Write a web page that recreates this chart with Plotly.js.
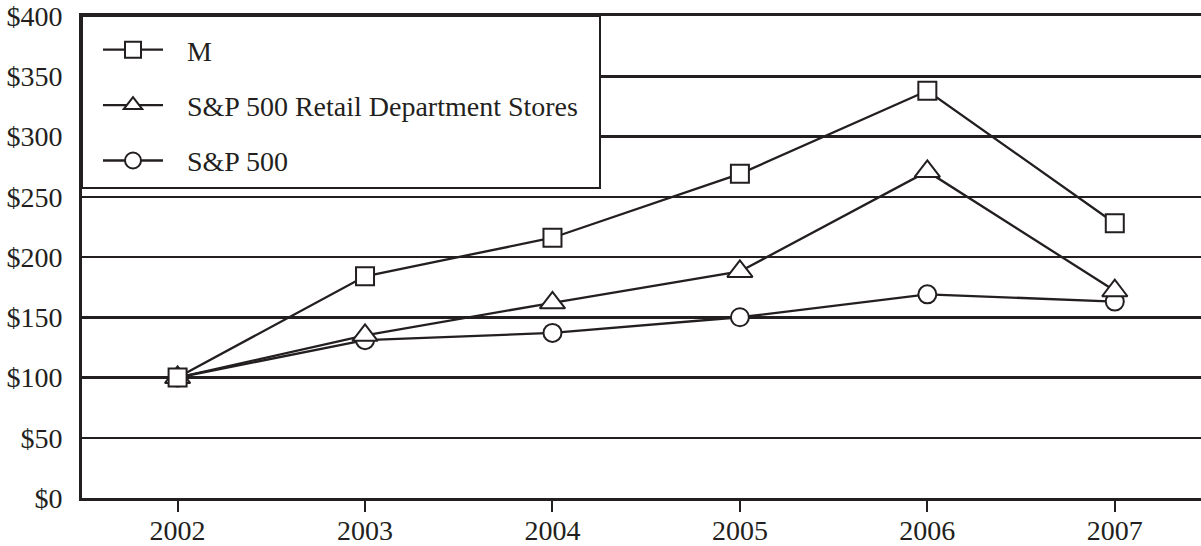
<!DOCTYPE html>
<html>
<head>
<meta charset="utf-8">
<script src="https://cdn.plot.ly/plotly-3.0.1.min.js"></script>
<style>html,body{margin:0;padding:0;background:#fff}#chart{width:1201px;height:546px}</style>
</head>
<body>
<div id="chart"></div>
<script>
const years = [2002, 2003, 2004, 2005, 2006, 2007];
const seriesNames = ["M", "S&P 500 Retail Department Stores", "S&P 500"];
const mValues = [100, 184, 216, 269, 338, 228];
const retailValues = [100, 135, 162, 188, 271, 172];
const sp500Values = [100, 131, 137, 150, 169, 163];
const yTicks = [0, 50, 100, 150, 200, 250, 300, 350, 400];

const INK = '#231f20';
const FONT = 'Liberation Serif, Times New Roman, serif';

function trace(name, y, symbol, size, rank) {
  return {
    x: years, y: y, name: name, type: 'scatter', mode: 'lines+markers',
    line: {color: INK, width: 2.3},
    marker: {symbol: symbol, size: size, color: '#fff', line: {color: INK, width: 2}},
    legendgroup: name, legendrank: rank,
    hoverinfo: 'x+y'
  };
}

const data = [
  trace(seriesNames[2], sp500Values, 'circle', 18, 3),
  trace(seriesNames[1], retailValues, 'triangle-up', 22, 2),
  trace(seriesNames[0], mValues, 'square', 18, 1)
];

const layout = {
  width: 1201, height: 546,
  margin: {l: 82, r: 0, t: 16, b: 48, pad: 0},
  paper_bgcolor: '#fff', plot_bgcolor: '#fff',
  font: {family: FONT, size: 28, color: INK},
  showlegend: true,
  legend: {
    x: 16 / 1119, y: 1 - 9 / 482, xanchor: 'left', yanchor: 'top',
    bgcolor: 'rgba(0,0,0,0)', borderwidth: 0,
    font: {family: FONT, size: 28, color: INK},
    traceorder: 'grouped', tracegroupgap: 16,
    itemwidth: 60
  },
  shapes: [{
    type: 'rect', xref: 'paper', yref: 'paper', layer: 'above',
    x0: 0, x1: (600 - 82) / 1119, y0: (498 - 188) / 482, y1: 1,
    fillcolor: '#fff', line: {color: INK, width: 2}
  }],
  xaxis: {
    range: [2001.49, 2007.46],
    tickvals: years, ticktext: years.map(String),
    showgrid: false, zeroline: false,
    showline: true, linecolor: INK, linewidth: 3, mirror: true,
    ticks: 'outside', ticklen: 11, tickwidth: 2, tickcolor: INK,
    ticklabelstandoff: -6,
    tickfont: {family: FONT, size: 28, color: INK},
    fixedrange: true
  },
  yaxis: {
    range: [0, 400],
    tickvals: yTicks, ticktext: yTicks.map(v => '$' + v),
    showgrid: true, gridcolor: INK, gridwidth: 2.5,
    zeroline: false,
    showline: true, linecolor: INK, linewidth: 3,
    ticks: '', ticklabelstandoff: 11,
    tickfont: {family: FONT, size: 28, color: INK},
    fixedrange: true
  }
};

Plotly.newPlot('chart', data, layout, {displayModeBar: false, staticPlot: true}).then(function (gd) {
  // shift legend labels right to leave the wider gap seen in the reference
  gd.querySelectorAll('.legend text.legendtext').forEach(function (t) {
    const x = parseFloat(t.getAttribute('x')) || 0;
    t.setAttribute('x', x + 19);
  });
  gd.querySelectorAll('.legend [clip-path]').forEach(function (el) {
    el.removeAttribute('clip-path');
  });
  const leg = gd.querySelector('.legend');
  if (leg) leg.removeAttribute('clip-path');
});
</script>
</body>
</html>
